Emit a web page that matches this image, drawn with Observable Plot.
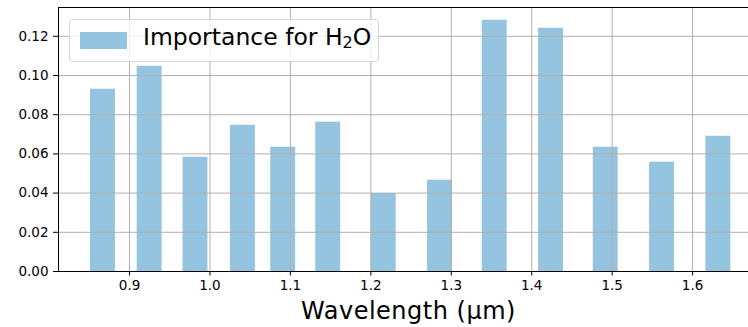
<!DOCTYPE html>
<html>
<head>
<meta charset="utf-8">
<script src="https://cdn.jsdelivr.net/npm/d3@7"></script>
<script src="https://cdn.jsdelivr.net/npm/@observablehq/plot@0.6"></script>
<style>
  html, body { margin: 0; padding: 0; background: #fff; }
  #wrap { position: relative; width: 748px; height: 327px; font-family: "DejaVu Sans", sans-serif; overflow: hidden; }
  #legend { position: absolute; left: 69px; top: 19px; width: 308px; height: 41px;
            border: 1px solid #d6d6d6; border-radius: 4px; background: rgba(255,255,255,0.8); }
  #legend .patch { position: absolute; left: 10px; top: 12px; width: 47px; height: 17px; background: #94c4df; }
  #legend .lbl { position: absolute; left: 73px; top: 6px; font-size: 23.5px; line-height: 23.5px; color: #000; white-space: nowrap; }
  #legend sub { font-size: 16px; vertical-align: -3px; line-height: 0; }
  #xlabel { position: absolute; left: 408.5px; top: 298.5px; transform: translateX(-50%); font-size: 24px; line-height: 24px; letter-spacing: 0.5px; white-space: nowrap; color: #000; }
</style>
</head>
<body>
<div id="wrap">
  <div id="chart"></div>
  <div id="legend"><div class="patch"></div><div class="lbl">Importance for H<sub>2</sub>O</div></div>
  <div id="xlabel">Wavelength (µm)</div>
</div>
<script>
// Data
const wavelengths = [0.867, 0.925, 0.982, 1.041, 1.091, 1.147, 1.216, 1.286, 1.354, 1.424, 1.492, 1.562, 1.632];
const importance  = [0.0930, 0.1047, 0.0583, 0.0746, 0.0634, 0.0762, 0.0398, 0.0466, 0.1282, 0.1241, 0.0634, 0.0558, 0.0690];
const barWidth = 0.031; // µm
const xTicks = [0.9, 1.0, 1.1, 1.2, 1.3, 1.4, 1.5, 1.6];
const yTicks = [0.00, 0.02, 0.04, 0.06, 0.08, 0.10, 0.12];
const xDomain = [0.8117, 1.6695];
const yDomain = [0, 0.1347];

const bars = wavelengths.map((c, i) => ({c, v: importance[i]}));

const chart = Plot.plot({
  width: 748,
  height: 327,
  marginLeft: 58,
  marginRight: 0,
  marginTop: 7,
  marginBottom: 56,
  style: { fontFamily: "DejaVu Sans, sans-serif", fontSize: "13.5px", color: "#000", background: "#fff" },
  x: { domain: xDomain },
  y: { domain: yDomain },
  marks: [
    Plot.rect(bars, { x1: d => d.c - barWidth / 2, x2: d => d.c + barWidth / 2, y1: 0, y2: "v", fill: "#94c4df" }),
    Plot.gridX(xTicks, { stroke: "#b0b0b0", strokeOpacity: 1, strokeWidth: 1 }),
    Plot.gridY(yTicks, { stroke: "#b0b0b0", strokeOpacity: 1, strokeWidth: 1 }),
    Plot.axisX(xTicks, { tickFormat: d3.format(".1f"), tickSize: 4.5, tickPadding: 4, label: null, fontSize: 13.5, stroke: "#000" }),
    Plot.axisY(yTicks, { tickFormat: d3.format(".2f"), tickSize: 5, tickPadding: 5, label: null, fontSize: 13.5, stroke: "#000" }),
    Plot.ruleX([xDomain[0]], { stroke: "#000", strokeWidth: 1 }),
    Plot.ruleY([0], { stroke: "#000", strokeWidth: 1 }),
    Plot.ruleY([yDomain[1]], { stroke: "#000", strokeWidth: 1 })
  ]
});
document.getElementById("chart").appendChild(chart);
</script>
</body>
</html>
